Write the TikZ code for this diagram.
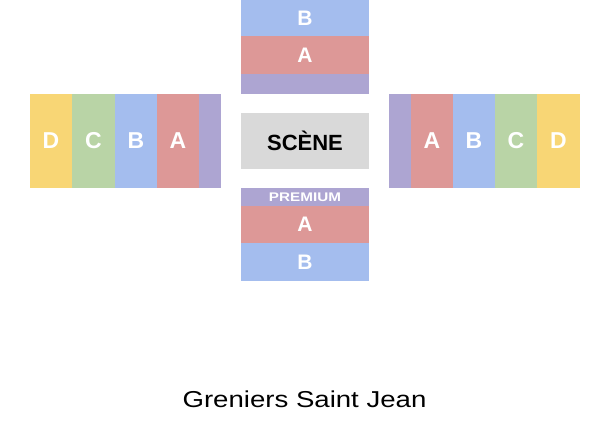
\documentclass[tikz,border=0pt]{standalone}
\usepackage{fontspec}
\setmainfont{Liberation Sans}
\definecolor{cyel}{HTML}{F8D675}
\definecolor{cgrn}{HTML}{B9D4A6}
\definecolor{cblu}{HTML}{A4BDEE}
\definecolor{cred}{HTML}{DD9897}
\definecolor{cpur}{HTML}{ADA5D2}
\definecolor{cgry}{HTML}{D9D9D9}
\begin{document}
\begin{tikzpicture}[x=1pt,y=-1pt,
  seat/.style={inner sep=0pt,outer sep=0pt,draw=none,text=white,
    font=\bfseries\fontsize{21}{21}\selectfont},
  vseat/.style={seat,minimum width=42pt,minimum height=94pt,
    font=\bfseries\fontsize{23}{23}\selectfont},
  hseat/.style={seat,minimum width=128pt}]
\useasboundingbox (0,0) rectangle (614,446);
\fill[white] (0,0) rectangle (614,446);
% top block
\node[hseat,fill=cblu,minimum height=36pt] (tB) at (305,18) {B};
\node[hseat,fill=cred,minimum height=38pt] (tA) at (305,55) {A};
\node[hseat,fill=cpur,minimum height=20pt] (tP) at (305,84) {};
% scene
\node[hseat,fill=cgry,minimum height=56pt,text=black,
  font=\bfseries\fontsize{22}{22}\selectfont] (scene) at (305,141) {SCÈNE};
% bottom block
\node[hseat,fill=cpur,minimum height=18pt,font=\bfseries\fontsize{12.5}{12.5}\selectfont] (bP) at (305,197) {\scalebox{1.22}[1]{PREMIUM}};
\node[hseat,fill=cred,minimum height=37pt] (bA) at (305,224.5) {A};
\node[hseat,fill=cblu,minimum height=38pt] (bB) at (305,262) {B};
% left block
\node[vseat,fill=cyel] (lD) at (51,141) {D};
\node[vseat,fill=cgrn,minimum width=43pt] (lC) at (93.5,141) {C};
\node[vseat,fill=cblu] (lB) at (136,141) {B};
\node[vseat,fill=cred] (lA) at (178,141) {A};
\node[vseat,fill=cpur,minimum width=22pt] (lP) at (210,141) {};
% right block
\node[vseat,fill=cpur,minimum width=22pt] (rP) at (400,141) {};
\node[vseat,fill=cred] (rA) at (432,141) {A};
\node[vseat,fill=cblu] (rB) at (474,141) {B};
\node[vseat,fill=cgrn] (rC) at (516,141) {C};
\node[vseat,fill=cyel,minimum width=43pt] (rD) at (558.5,141) {D};
% title
\node[inner sep=0pt,anchor=base,font=\fontsize{23}{23}\selectfont] (title) at (304.5,407.5) {\scalebox{1.2}[1]{Greniers Saint Jean}};
\end{tikzpicture}
\end{document}
